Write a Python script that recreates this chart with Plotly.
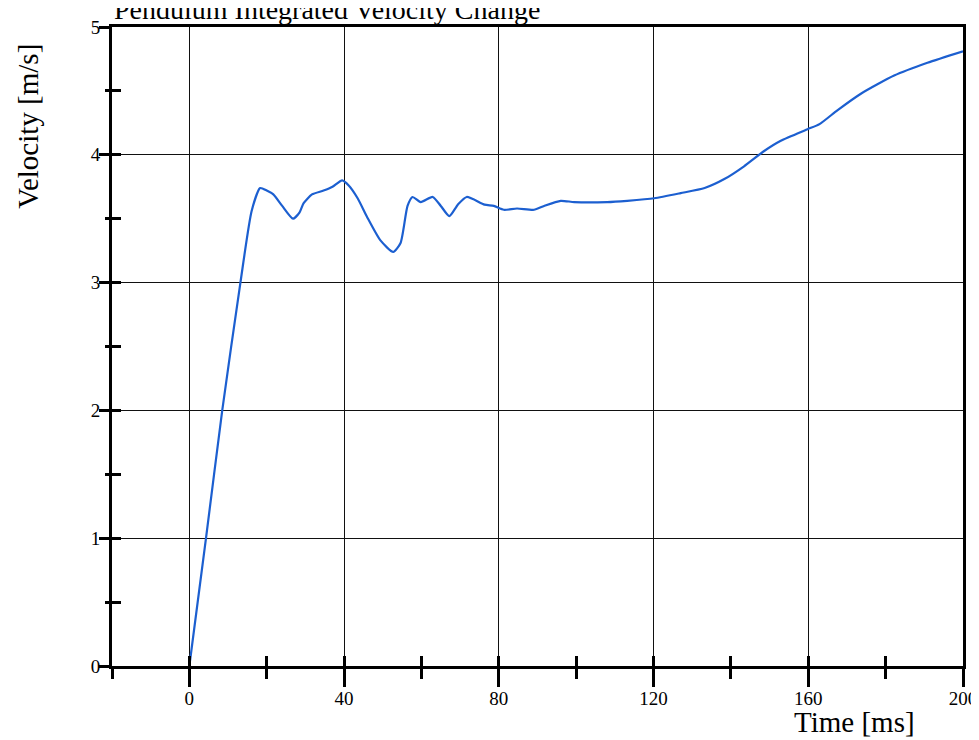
import plotly.graph_objects as go

# Data (time in ms, velocity in m/s)
time_ms = [0, 4.3, 8.5, 13.2, 16.1, 18.3, 20, 21.7, 24, 26.8, 28.5, 29.5, 31.7, 34.7, 37,
           39.5, 41.2, 43.5, 46, 49.4, 52.7, 54.6, 56.4, 57.7, 59.8, 62.9, 65, 67.2, 69.4,
           71.7, 76.3, 78.7, 81.3, 84.7, 89.1, 91.7, 96, 99.5, 108, 113.2, 120.2, 127,
           133.2, 138.3, 143.4, 148.6, 152.9, 159.8, 162.9, 167.6, 173.7, 182.2, 190.8, 200]
velocity = [0, 1.0, 2.0, 3.0, 3.56, 3.74, 3.72, 3.69, 3.60, 3.50, 3.55, 3.62, 3.69, 3.72, 3.75,
            3.80, 3.76, 3.66, 3.51, 3.33, 3.24, 3.31, 3.60, 3.67, 3.63, 3.67, 3.60, 3.52, 3.61,
            3.67, 3.61, 3.60, 3.57, 3.58, 3.57, 3.60, 3.64, 3.63, 3.63, 3.64, 3.66, 3.70,
            3.74, 3.81, 3.91, 4.03, 4.11, 4.20, 4.24, 4.35, 4.48, 4.62, 4.72, 4.81]

x_ticks = [0, 40, 80, 120, 160, 200]
x_tick_labels = ["0", "40", "80", "120", "160", "200"]
x_minor_ticks = [-20, 20, 60, 100, 140, 180]
y_ticks = [0, 1, 2, 3, 4, 5]
y_tick_labels = ["0", "1", "2", "3", "4", "5"]
y_minor_ticks = [0.5, 1.5, 2.5, 3.5, 4.5]

FONT = "Liberation Serif"

fig = go.Figure()
fig.add_trace(go.Scatter(
    x=time_ms, y=velocity, mode="lines",
    line=dict(color="#1c5fd0", width=2.2, shape="spline", smoothing=0.6),
    showlegend=False, hoverinfo="skip"))
# invisible copy on overlay axes (draws the inner half of the crossing ticks)
fig.add_trace(go.Scatter(
    x=time_ms, y=velocity, mode="lines", xaxis="x2", yaxis="y2",
    line=dict(color="rgba(0,0,0,0)", width=0), showlegend=False, hoverinfo="skip"))

fig.update_layout(
    width=971, height=732,
    margin=dict(l=104, r=16, t=19, b=74),
    paper_bgcolor="white", plot_bgcolor="white",
    font=dict(family=FONT, color="black", size=19),
    xaxis=dict(range=[-20, 200], tickvals=x_ticks, ticktext=x_tick_labels,
               ticks="outside", ticklen=18, tickwidth=2.5, tickcolor="black",
               minor=dict(tickvals=x_minor_ticks, ticks="outside", ticklen=10,
                          tickwidth=2.5, tickcolor="black", showgrid=False),
               showline=True, linecolor="black", linewidth=3, mirror=True,
               showgrid=True, gridcolor="#111", gridwidth=1.3, zeroline=False,
               automargin=False, ticklabelstandoff=-5, ticklabeloverflow="allow",
               tickfont=dict(family=FONT, size=19)),
    yaxis=dict(range=[0, 5], tickvals=y_ticks, ticktext=y_tick_labels,
               ticks="outside", ticklen=10, tickwidth=3, tickcolor="black",
               minor=dict(tickvals=y_minor_ticks, ticks="outside", ticklen=4, tickwidth=3,
                          tickcolor="black", showgrid=False),
               showline=True, linecolor="black", linewidth=3, mirror=True,
               showgrid=True, gridcolor="#111", gridwidth=1.3, zeroline=False,
               automargin=False, ticklabelstandoff=-5, ticklabeloverflow="allow",
               tickfont=dict(family=FONT, size=19)),
    xaxis2=dict(range=[-20, 200], overlaying="x", anchor="y2", side="bottom",
                tickvals=x_ticks + x_minor_ticks, ticks="inside",
                ticklen=10, tickwidth=2.5, tickcolor="black", showticklabels=False,
                showgrid=False, zeroline=False, showline=False, automargin=False),
    yaxis2=dict(range=[0, 5], overlaying="y", anchor="x2", side="left",
                tickvals=y_ticks + y_minor_ticks, ticks="inside",
                ticklen=9, tickwidth=3, tickcolor="black", showticklabels=False,
                showgrid=False, zeroline=False, showline=False, automargin=False),
    annotations=[
        dict(text="Pendulum Integrated Velocity Change", xref="paper", yref="paper",
             x=0.0, y=1.027, xanchor="left", yanchor="middle", showarrow=False,
             font=dict(family=FONT, size=28)),
        dict(text="Velocity [m/s]", xref="paper", yref="paper", textangle=-90,
             x=-0.099, y=0.845, xanchor="center", yanchor="middle", showarrow=False,
             font=dict(family=FONT, size=29)),
        dict(text="Time [ms]", xref="paper", yref="paper",
             x=0.872, y=-0.088, xanchor="center", yanchor="middle", showarrow=False,
             font=dict(family=FONT, size=29)),
    ],
)

fig.write_html("out.html")
